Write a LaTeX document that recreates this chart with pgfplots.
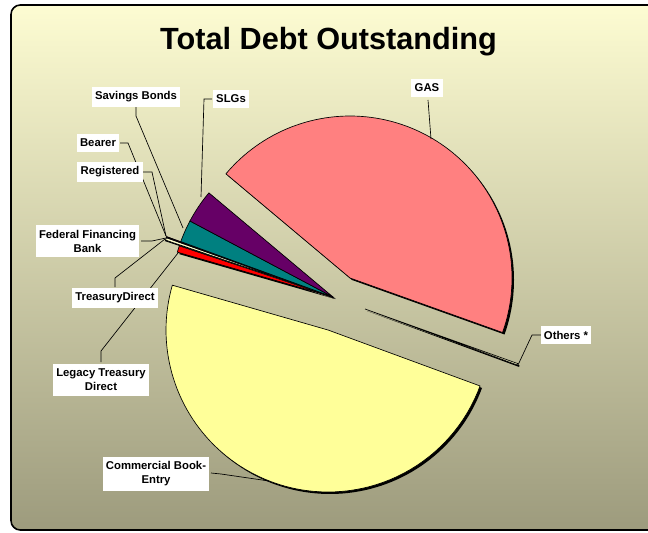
\documentclass[border=0pt]{standalone}
\usepackage{fontspec}
\setmainfont{Liberation Sans}
\usepackage{pgfplots}
\pgfplotsset{compat=1.18}
\usepackage{pgfplotstable}

\definecolor{bgtop}{HTML}{FDFCD2}
\definecolor{bgbot}{HTML}{9D9B7D}
\definecolor{cGAS}{HTML}{FF8080}
\definecolor{cOth}{HTML}{FFFFCC}
\definecolor{cCBE}{HTML}{FFFF99}
\definecolor{cLTD}{HTML}{FF0000}
\definecolor{cTD}{HTML}{CCFFFF}
\definecolor{cFFB}{HTML}{FFFFCC}
\definecolor{cReg}{HTML}{9999FF}
\definecolor{cBea}{HTML}{993366}
\definecolor{cSB}{HTML}{008080}
\definecolor{cSLG}{HTML}{660066}

% share of total debt outstanding (percent), in pie order (clockwise)
\pgfplotstableread{
name value
GAS 44.35
Others 0.15
CBE 48.85
LTD 0.65
TD 0.08
FFB 0.25
Reg 0.08
Bearer 0.03
SB 2.22
SLG 3.34
}\debt

\newcommand{\Rad}{162}
% \slice{cx}{cy}{end angle}{start angle}{fill}
\newcommand{\slice}[5]{%
  \addplot[draw=black, line width=0.5pt, fill=#5, domain=#3:#4, samples=90, variable=\t]
    ({#1+\Rad*cos(\t)},{#2+\Rad*sin(\t)}) -- (axis cs:#1,#2) -- cycle;}
\newcommand{\shadow}[4]{%
  \addplot[draw=none, fill=black, domain=#3:#4, samples=90, variable=\t]
    ({#1+2+\Rad*cos(\t)},{#2-2+\Rad*sin(\t)}) -- (axis cs:#1+2,#2-2) -- cycle;}

\begin{document}
\begin{tikzpicture}[x=0.75pt,y=0.75pt]
\useasboundingbox (0,0) rectangle (648,532);
\clip (0,0) rectangle (648,532);
\shade[top color=bgtop, bottom color=bgbot, rounded corners=7pt] (11,2) rectangle (690,527);
\draw[line width=1.2pt, rounded corners=7pt] (11,2) rectangle (690,527);

% cumulative angles
\pgfmathsetmacro\aA{140}
\pgfplotstablegetelem{0}{value}\of\debt \pgfmathsetmacro\aB{\aA-3.6*\pgfplotsretval}
\pgfplotstablegetelem{1}{value}\of\debt \pgfmathsetmacro\aC{\aB-3.6*\pgfplotsretval}
\pgfplotstablegetelem{2}{value}\of\debt \pgfmathsetmacro\aD{\aC-3.6*\pgfplotsretval}
\pgfplotstablegetelem{3}{value}\of\debt \pgfmathsetmacro\aE{\aD-3.6*\pgfplotsretval}
\pgfplotstablegetelem{4}{value}\of\debt \pgfmathsetmacro\aF{\aE-3.6*\pgfplotsretval}
\pgfplotstablegetelem{5}{value}\of\debt \pgfmathsetmacro\aG{\aF-3.6*\pgfplotsretval}
\pgfplotstablegetelem{6}{value}\of\debt \pgfmathsetmacro\aH{\aG-3.6*\pgfplotsretval}
\pgfplotstablegetelem{7}{value}\of\debt \pgfmathsetmacro\aI{\aH-3.6*\pgfplotsretval}
\pgfplotstablegetelem{8}{value}\of\debt \pgfmathsetmacro\aJ{\aI-3.6*\pgfplotsretval}
\pgfplotstablegetelem{9}{value}\of\debt \pgfmathsetmacro\aK{\aJ-3.6*\pgfplotsretval}

\begin{axis}[at={(0,0)}, anchor=south west, scale only axis,
  width=486pt, height=399pt, xmin=0, xmax=648, ymin=0, ymax=532,
  hide axis, clip=false]
% shadows
\shadow{350}{254}{\aB}{\aA}
\shadow{365}{223}{\aC}{\aB}
\shadow{328}{202}{\aD}{\aC}
\shadow{333}{235}{\aE}{\aD}
\shadow{333}{235}{\aK}{\aI}
% slices
\slice{350}{254}{\aB}{\aA}{cGAS}
\slice{365}{223}{\aC}{\aB}{cOth}
\slice{328}{202}{\aD}{\aC}{cCBE}
\slice{333}{235}{\aE}{\aD}{cLTD}
\slice{319}{240}{\aF}{\aE}{cTD}
\slice{319}{240}{\aG}{\aF}{cFFB}
\slice{319}{240}{\aH}{\aG}{cReg}
\slice{319}{240}{\aI}{\aH}{cBea}
\slice{333}{235}{\aJ}{\aI}{cSB}
\slice{333}{235}{\aK}{\aJ}{cSLG}

% leader lines
\draw[line width=0.5pt] (428,432) -- (431,393);
\draw[line width=0.5pt] (212,433) -- (204,433) -- (201,335);
\draw[line width=0.5pt] (136,425) -- (136,416) -- (183,304);
\draw[line width=0.5pt] (120,389) -- (128,389) -- (166,296);
\draw[line width=0.5pt] (143,360) -- (152,360) -- (166,296);
\draw[line width=0.5pt] (141,291) -- (152,291) -- (166,294);
\draw[line width=0.5pt] (115,245) -- (115,254) -- (165,293);
\draw[line width=0.5pt] (101,170) -- (101,181) -- (178,279);
\draw[line width=0.5pt] (211,59) -- (221,58) -- (269,51);
\draw[line width=0.5pt] (541,197) -- (532,197) -- (518,167);

% labels
\tikzset{lab/.style={fill=white, inner xsep=2.5pt, inner ysep=3.5pt, align=center,
  font=\bfseries\fontsize{8.5}{10.5}\selectfont}}
\node[lab] at (427,444) {GAS};
\node[lab] at (231,433) {SLGs};
\node[lab] at (136,435) {Savings Bonds};
\node[lab] at (98,389) {Bearer};
\node[lab] at (110,360) {Registered};
\node[lab] at (87.5,291) {Federal Financing\\Bank};
\node[lab] at (115,234) {TreasuryDirect};
\node[lab] at (101,152) {Legacy Treasury\\Direct};
\node[lab] at (156,58) {Commercial Book-\\Entry};
\node[lab] at (566,197) {Others *};

\node[anchor=base, font=\bfseries\fontsize{23}{26}\selectfont] at (328.5,482) {Total Debt Outstanding};
\end{axis}
\end{tikzpicture}
\end{document}
